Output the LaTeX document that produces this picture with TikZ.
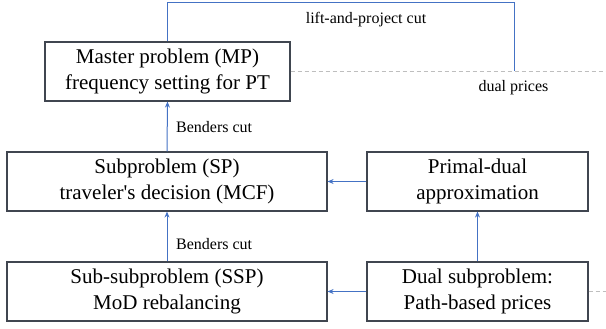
\documentclass[tikz,border=0pt]{standalone}
\usepackage{fontspec}
\setmainfont{Liberation Serif}[Ligatures=TeXOff]
\usetikzlibrary{arrows.meta}
\definecolor{linkblue}{RGB}{68,114,196}
\definecolor{boxgray}{RGB}{64,70,80}
\definecolor{dashgray}{RGB}{190,190,190}
\tikzset{
	probbox/.style = {draw = boxgray, line width = 1.2pt, align = center, inner sep = 0pt,
		font = \fontsize{21}{25.5}\selectfont},
	cutlabel/.style = {font = \fontsize{16}{19}\selectfont, inner sep = 0pt}
}

\begin{document}
\begin{tikzpicture}[x = 1pt, y = 1pt, >={Stealth[length=6pt, width=5pt]}]
			\useasboundingbox (0,0) rectangle (606,329);
			% caixes
			\node[probbox, minimum width = 245pt, minimum height = 59pt] (mp) at (167.5, 257.5) {Master problem (MP)\\frequency setting for PT};
			\node[probbox, minimum width = 320pt, minimum height = 59pt] (sp) at (167, 147.5) {Subproblem (SP)\\traveler's decision (MCF)};
			\node[probbox, minimum width = 221pt, minimum height = 59pt] (pd) at (477.5, 147.5) {Primal-dual\\approximation};
			\node[probbox, minimum width = 320pt, minimum height = 59pt] (ssp) at (167, 37.5) {Sub-subproblem (SSP)\\MoD rebalancing};
			\node[probbox, minimum width = 221pt, minimum height = 59pt] (ds) at (477.5, 37.5) {Dual subproblem:\\Path-based prices};
			% fletxes verticals
			\draw[color = linkblue, line width = 1pt, ->] (sp.north) -- (mp.south);
			\draw[color = linkblue, line width = 1pt, ->] (ssp.north) -- (sp.south);
			\draw[color = linkblue, line width = 0.8pt, ->] (ds.north) -- (pd.south);
			% fletxes horitzontals
			\draw[color = linkblue, line width = 0.8pt, ->] (pd.west) -- (sp.east);
			\draw[color = linkblue, line width = 0.8pt, ->] (ds.west) -- (ssp.east);
			% tall lift-and-project
			\coordinate (lpcorner) at (514, 326);
			\coordinate (lpend) at (514, 257.5);
			\draw[color = linkblue, line width = 1pt] (mp.north) |- (lpcorner) -- (lpend);
			% linies discontinues
			\coordinate (mpdash) at (606, 257.5);
			\coordinate (dsdash) at (606, 37.5);
			\draw[color = dashgray, line width = 0.8pt, dash pattern = on 4pt off 3pt] (mp.east) -- (mpdash);
			\draw[color = dashgray, line width = 0.8pt, dash pattern = on 4pt off 3pt] (ds.east) -- (dsdash);
			% etiquetes
			\node[cutlabel] (lplabel) at (366, 309) {lift-and-project cut};
			\node[cutlabel] (duallabel) at (513.5, 241) {dual prices};
			\node[cutlabel, anchor = west] (bcut1) at (176, 202) {Benders cut};
			\node[cutlabel, anchor = west] (bcut2) at (176, 85) {Benders cut};
		\end{tikzpicture}
\end{document}
